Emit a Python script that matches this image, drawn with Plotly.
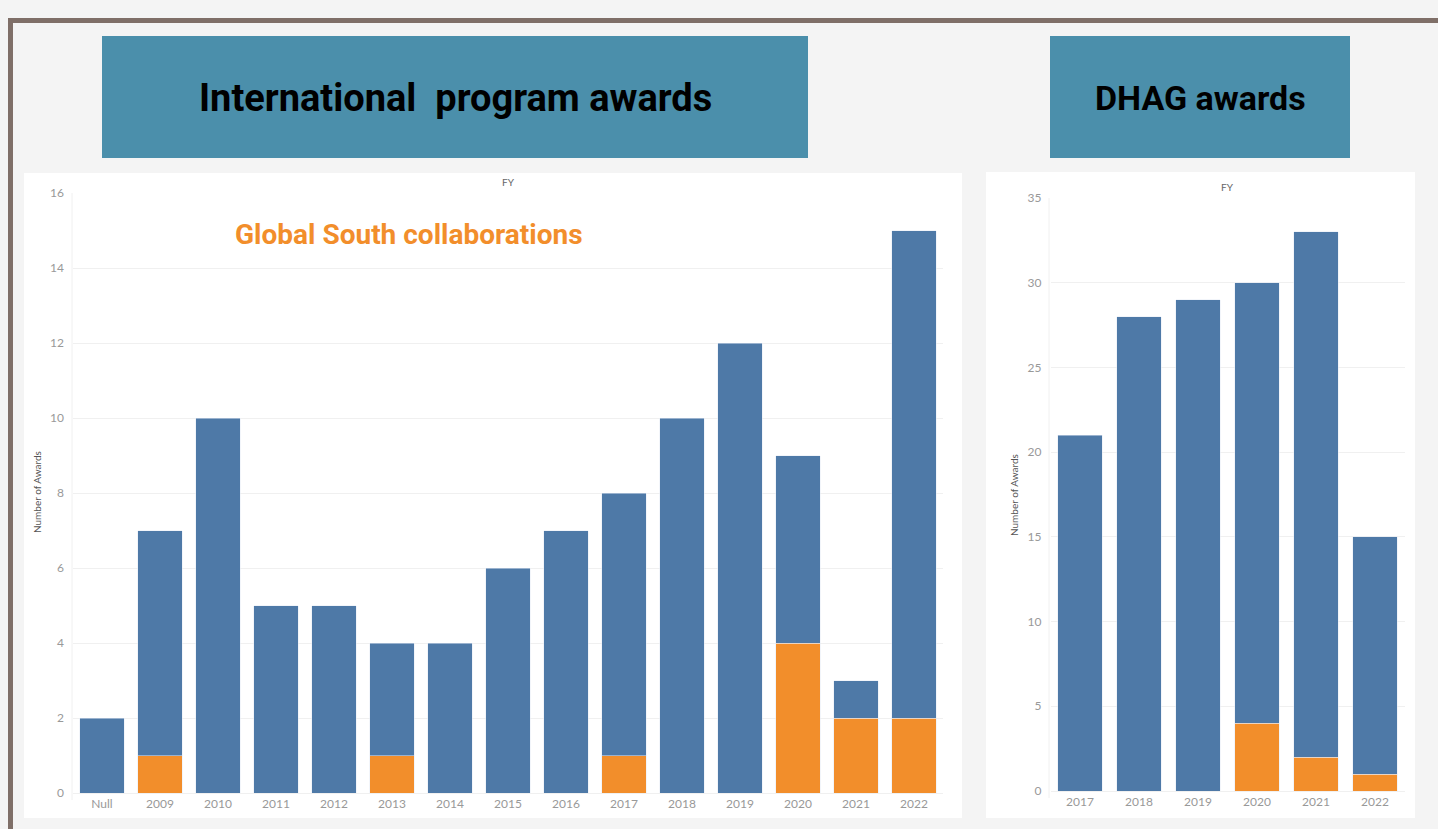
import plotly.graph_objects as go

W, H = 1438, 829

# ---- data ----
intl_years = ["Null", "2009", "2010", "2011", "2012", "2013", "2014", "2015",
              "2016", "2017", "2018", "2019", "2020", "2021", "2022"]
intl_total = [2, 7, 10, 5, 5, 4, 4, 6, 7, 8, 10, 12, 9, 3, 15]
intl_south = [0, 1, 0, 0, 0, 1, 0, 0, 0, 1, 0, 0, 4, 2, 2]

dhag_years = ["2017", "2018", "2019", "2020", "2021", "2022"]
dhag_total = [21, 28, 29, 30, 33, 15]
dhag_south = [0, 0, 0, 4, 2, 1]

intl_ticks = [0, 2, 4, 6, 8, 10, 12, 14, 16]
dhag_ticks = [0, 5, 10, 15, 20, 25, 30, 35]

BLUE = "#4e79a7"
ORANGE = "#f28e2b"
BOX = "#4b8fab"
BORDER = "#7f6f68"
TICK = "#999999"
GRID = "#f0f0f0"


def px(x):
    return x / W


def py(y):
    return 1 - y / H


fig = go.Figure()

fig.add_trace(go.Bar(x=intl_years, y=intl_south, marker_color=ORANGE,
                     xaxis="x", yaxis="y", showlegend=False))
fig.add_trace(go.Bar(x=intl_years, y=[t - s for t, s in zip(intl_total, intl_south)],
                     marker_color=BLUE, xaxis="x", yaxis="y", showlegend=False))
fig.add_trace(go.Bar(x=dhag_years, y=dhag_south, marker_color=ORANGE,
                     xaxis="x2", yaxis="y2", showlegend=False))
fig.add_trace(go.Bar(x=dhag_years, y=[t - s for t, s in zip(dhag_total, dhag_south)],
                     marker_color=BLUE, xaxis="x2", yaxis="y2", showlegend=False))

tickfont = dict(family="Lato, Open Sans, sans-serif", size=12, color=TICK)

axis_common = dict(zeroline=False, tickfont=tickfont, ticks="",
                   fixedrange=True, automargin=False)

fig.update_layout(
    width=W, height=H,
    margin=dict(l=0, r=0, t=0, b=0, pad=0, autoexpand=False),
    paper_bgcolor="#f4f4f4",
    plot_bgcolor="rgba(0,0,0,0)",
    barmode="stack",
    bargap=0.24,
    xaxis=dict(domain=[px(73), px(943)], anchor="y", showgrid=False,
               showline=True, linecolor=GRID, linewidth=1, **axis_common),
    yaxis=dict(domain=[py(793), py(193)], anchor="x", range=[0, 16],
               tickvals=intl_ticks, showgrid=True, gridcolor=GRID, gridwidth=1,
               showline=False, ticklabelstandoff=8, **axis_common),
    xaxis2=dict(domain=[px(1050.5), px(1404.5)], anchor="y2", showgrid=False,
                showline=True, linecolor=GRID, linewidth=1, **axis_common),
    yaxis2=dict(domain=[py(791), py(198)], anchor="x2", range=[0, 35],
                tickvals=dhag_ticks, showgrid=True, gridcolor=GRID, gridwidth=1,
                showline=False, ticklabelstandoff=8, **axis_common),
)

shapes = []
# outer frame
shapes.append(dict(type="rect", xref="paper", yref="paper",
                   x0=px(10.5), x1=px(W + 20), y0=py(20.5), y1=py(H + 20),
                   line=dict(color=BORDER, width=5), fillcolor="rgba(0,0,0,0)", layer="below"))
# white panels
shapes.append(dict(type="rect", xref="paper", yref="paper",
                   x0=px(24), x1=px(962), y0=py(173), y1=py(818),
                   line=dict(width=0), fillcolor="white", layer="below"))
shapes.append(dict(type="rect", xref="paper", yref="paper",
                   x0=px(986), x1=px(1415), y0=py(172), y1=py(818),
                   line=dict(width=0), fillcolor="white", layer="below"))
# title boxes
shapes.append(dict(type="rect", xref="paper", yref="paper",
                   x0=px(102), x1=px(808), y0=py(36), y1=py(158),
                   line=dict(width=0), fillcolor=BOX, layer="below"))
shapes.append(dict(type="rect", xref="paper", yref="paper",
                   x0=px(1050), x1=px(1350), y0=py(36), y1=py(158),
                   line=dict(width=0), fillcolor=BOX, layer="below"))
# faint axis lines
shapes.append(dict(type="line", xref="paper", yref="paper",
                   x0=px(72), x1=px(72), y0=py(193), y1=py(800),
                   line=dict(color=GRID, width=1), layer="below"))
shapes.append(dict(type="line", xref="paper", yref="paper",
                   x0=px(1049), x1=px(1049), y0=py(198), y1=py(798),
                   line=dict(color=GRID, width=1), layer="below"))
fig.update_layout(shapes=shapes)

title_font = "Roboto, Lato, sans-serif"


def note(text, x, y, size, color, family, angle=0):
    return dict(text=text, x=px(x), y=py(y), xref="paper", yref="paper",
                showarrow=False, xanchor="center", yanchor="middle", textangle=angle,
                font=dict(family=family, size=size, color=color))


ann = [
    note("<b>International\u00a0 program awards</b>", 455, 98, 38, "black", title_font),
    note("<b>DHAG awards</b>", 1200, 98, 34, "black", title_font),
    note("<b>Global South collaborations</b>", 409, 235, 28, ORANGE, title_font),
    note("FY", 508, 182, 10, "#666666", "Lato, sans-serif"),
    note("FY", 1227, 187, 10, "#666666", "Lato, sans-serif"),
    note("Number of Awards", 37, 492, 10, "#555555", "Lato, sans-serif", -90),
    note("Number of Awards", 1014, 495, 10, "#555555", "Lato, sans-serif", -90),
]
fig.update_layout(annotations=ann)

post = "document.body.style.margin = '0';"

fig.write_html("out.html", post_script=post, config={"displayModeBar": False})
